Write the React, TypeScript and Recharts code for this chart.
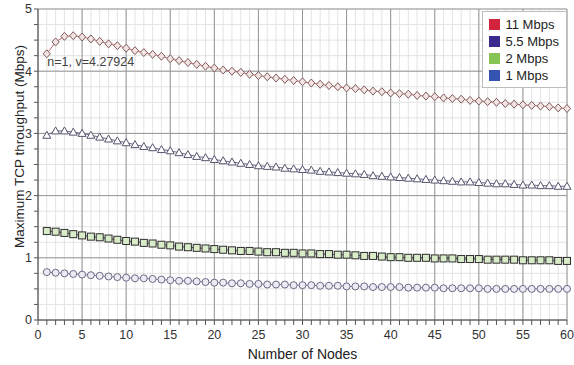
import React from 'react'
import {
  LineChart,
  Line,
  XAxis,
  YAxis,
  CartesianGrid,
  ReferenceDot,
} from 'recharts'

// x categories: number of nodes
const nodes = Array.from({ length: 60 }, (_, i) => i + 1)

const mbps11 = [
  4.28, 4.47, 4.56, 4.57, 4.55, 4.52, 4.48, 4.44, 4.41, 4.37,
  4.33, 4.3, 4.27, 4.24, 4.2, 4.17, 4.14, 4.11, 4.08, 4.05,
  4.02, 4.0, 3.98, 3.95, 3.93, 3.91, 3.89, 3.87, 3.85, 3.83,
  3.81, 3.79, 3.77, 3.75, 3.73, 3.72, 3.7, 3.68, 3.67, 3.65,
  3.64, 3.63, 3.61, 3.6, 3.59, 3.57, 3.56, 3.55, 3.53, 3.52,
  3.51, 3.5, 3.48, 3.47, 3.46, 3.45, 3.44, 3.43, 3.41, 3.4,
]

const mbps55 = [
  2.97, 3.04, 3.04, 3.02, 3.0, 2.97, 2.94, 2.91, 2.88, 2.85,
  2.82, 2.79, 2.77, 2.74, 2.72, 2.69, 2.66, 2.63, 2.61, 2.58,
  2.56, 2.54, 2.52, 2.5, 2.48, 2.47, 2.46, 2.44, 2.43, 2.42,
  2.41, 2.39, 2.38, 2.37, 2.36, 2.35, 2.34, 2.32, 2.31, 2.3,
  2.29, 2.28, 2.27, 2.26, 2.25, 2.24, 2.23, 2.22, 2.22, 2.21,
  2.2, 2.19, 2.19, 2.18, 2.17, 2.17, 2.16, 2.16, 2.15, 2.15,
]

const mbps2 = [
  1.43, 1.42, 1.4, 1.38, 1.36, 1.34, 1.33, 1.31, 1.29, 1.27,
  1.26, 1.24, 1.23, 1.21, 1.2, 1.18, 1.17, 1.16, 1.15, 1.14,
  1.13, 1.12, 1.11, 1.11, 1.1, 1.09, 1.09, 1.08, 1.08, 1.07,
  1.07, 1.06, 1.06, 1.05, 1.05, 1.04, 1.03, 1.03, 1.02, 1.01,
  1.01, 1.0, 1.0, 1.0, 0.99, 0.99, 0.99, 0.98, 0.98, 0.98,
  0.97, 0.97, 0.97, 0.97, 0.96, 0.96, 0.96, 0.96, 0.95, 0.95,
]

const mbps1 = [
  0.77, 0.76, 0.75, 0.74, 0.73, 0.72, 0.71, 0.7, 0.69, 0.68,
  0.67, 0.67, 0.66, 0.65, 0.64, 0.63, 0.63, 0.62, 0.61, 0.6,
  0.6, 0.59, 0.59, 0.58, 0.58, 0.57, 0.57, 0.57, 0.56, 0.56,
  0.56, 0.55, 0.55, 0.55, 0.54, 0.54, 0.54, 0.53, 0.53, 0.53,
  0.53, 0.52, 0.52, 0.52, 0.52, 0.51, 0.51, 0.51, 0.51, 0.51,
  0.5, 0.5, 0.5, 0.5, 0.5, 0.5, 0.5, 0.5, 0.5, 0.5,
]

const xTicks = Array.from({ length: 61 }, (_, i) => i)
const xMajor = [0, 5, 10, 15, 20, 25, 30, 35, 40, 45, 50, 55, 60]
const yTicks = Array.from({ length: 21 }, (_, i) => i * 0.25)
const yMajor = [0, 1, 2, 3, 4, 5]

const legendItems = [
  { label: '11 Mbps', color: '#d2233c' },
  { label: '5.5 Mbps', color: '#3b2a8c' },
  { label: '2 Mbps', color: '#86c455' },
  { label: '1 Mbps', color: '#3553b0' },
]

const noteN = 1
const noteV = 4.27924

const data = nodes.map((n, i) => ({
  n,
  a: mbps11[i],
  b: mbps55[i],
  c: mbps2[i],
  d: mbps1[i],
}))

const FONT = 'Arial, "Liberation Sans", sans-serif'

const Diamond = (p: any) => {
  const { cx, cy, index } = p
  if (cx == null || cy == null) return null
  return (
    <polygon
      key={'dia' + index}
      points={`${cx},${cy - 4} ${cx + 3.6},${cy} ${cx},${cy + 4} ${cx - 3.6},${cy}`}
      fill="#f3e4e4"
      stroke="#7d5a5a"
      strokeWidth={1}
    />
  )
}

const Triangle = (p: any) => {
  const { cx, cy, index } = p
  if (cx == null || cy == null) return null
  return (
    <polygon
      key={'tri' + index}
      points={`${cx},${cy - 4} ${cx + 4},${cy + 3} ${cx - 4},${cy + 3}`}
      fill="#ffffff"
      stroke="#55556e"
      strokeWidth={1}
    />
  )
}

const Square = (p: any) => {
  const { cx, cy, index } = p
  if (cx == null || cy == null) return null
  return (
    <rect
      key={'sq' + index}
      x={cx - 3.5}
      y={cy - 3.5}
      width={7}
      height={7}
      fill="#d9ecca"
      stroke="#2e2e2e"
      strokeWidth={1}
    />
  )
}

const Circle = (p: any) => {
  const { cx, cy, index } = p
  if (cx == null || cy == null) return null
  return (
    <circle
      key={'ci' + index}
      cx={cx}
      cy={cy}
      r={3.5}
      fill="#ecebf3"
      stroke="#6a6a86"
      strokeWidth={1}
    />
  )
}

// legend sits over the plot, so it is drawn outside the chart layout
const LegendBox = () => (
  <div
    style={{
      position: 'absolute',
      top: 11,
      right: 7,
      background: '#fff',
      border: '1px solid #bdbdbd',
      padding: '4px 7px 3px 6px',
      fontFamily: FONT,
      fontSize: 13,
      color: '#222',
    }}
  >
    {legendItems.map(it => (
      <div key={it.label} style={{ display: 'flex', alignItems: 'center', height: 17 }}>
        <div style={{ width: 11, height: 11, background: it.color, marginRight: 6 }} />
        <span>{it.label}</span>
      </div>
    ))}
  </div>
)

const NoteLabel = (props: any) => {
  const vb = props.viewBox || {}
  return (
    <text
      x={(vb.x ?? 0) + 1}
      y={(vb.y ?? 0) + 12.5}
      fontFamily={FONT}
      fontSize={12.5}
      fill="#444"
    >
      {`n=${noteN}, v=${noteV}`}
    </text>
  )
}

const YTitle = (props: any) => {
  const vb = props.viewBox || {}
  const x = (vb.x ?? 0) + 16
  const y = (vb.y ?? 0) + (vb.height ?? 0) / 2 - 18
  return (
    <text
      x={x}
      y={y}
      transform={`rotate(-90 ${x} ${y})`}
      textAnchor="middle"
      fontFamily={FONT}
      fontSize={13.5}
      fill="#222"
    >
      Maximum TCP throughput (Mbps)
    </text>
  )
}

export default function App() {
  return (
    <div style={{ position: 'absolute', left: 0, top: 0, width: 574, height: 365, background: '#fff' }}>
      <LineChart
        width={574}
        height={365}
        data={data}
        margin={{ top: 9, right: 7, bottom: 0, left: 8 }}
      >
        <CartesianGrid
          stroke="#e3e3e3"
          strokeWidth={1}
          verticalValues={xTicks}
          horizontalValues={yTicks}
        />
        <CartesianGrid
          stroke="#969696"
          strokeWidth={1}
          fill="none"
          verticalValues={xMajor}
          horizontalValues={yMajor}
        />
        <XAxis
          type="number"
          dataKey="n"
          domain={[0, 60]}
          ticks={xTicks}
          interval={0}
          tickFormatter={(v: number) => (v % 5 === 0 ? String(v) : '')}
          tickSize={5}
          tickMargin={5}
          height={45}
          stroke="#555"
          tick={{ fill: '#333', fontSize: 12.5, fontFamily: FONT }}
          label={{
            value: 'Number of Nodes',
            position: 'insideBottom',
            offset: 6,
            style: { fill: '#222', fontSize: 14, fontFamily: FONT },
          }}
        />
        <YAxis
          type="number"
          domain={[0, 5]}
          ticks={yTicks}
          interval={0}
          tickFormatter={(v: number) => (Number.isInteger(v) ? String(v) : '')}
          tickSize={4}
          tickMargin={2}
          width={30}
          stroke="#555"
          tick={{ fill: '#333', fontSize: 12.5, fontFamily: FONT }}
          label={<YTitle />}
        />
        <Line dataKey="a" name="11 Mbps" stroke="#c86a6a" strokeWidth={1} dot={Diamond} activeDot={false} isAnimationActive={false} />
        <Line dataKey="b" name="5.5 Mbps" stroke="#6a6a8a" strokeWidth={1} dot={Triangle} activeDot={false} isAnimationActive={false} />
        <Line dataKey="c" name="2 Mbps" stroke="#4a4a4a" strokeWidth={1} dot={Square} activeDot={false} isAnimationActive={false} />
        <Line dataKey="d" name="1 Mbps" stroke="#7a7a96" strokeWidth={1} dot={Circle} activeDot={false} isAnimationActive={false} />
        <ReferenceDot
          x={noteN}
          y={noteV}
          r={0.5}
          fill="none"
          stroke="none"
          label={<NoteLabel />}
        />
      </LineChart>
      <LegendBox />
    </div>
  )
}
